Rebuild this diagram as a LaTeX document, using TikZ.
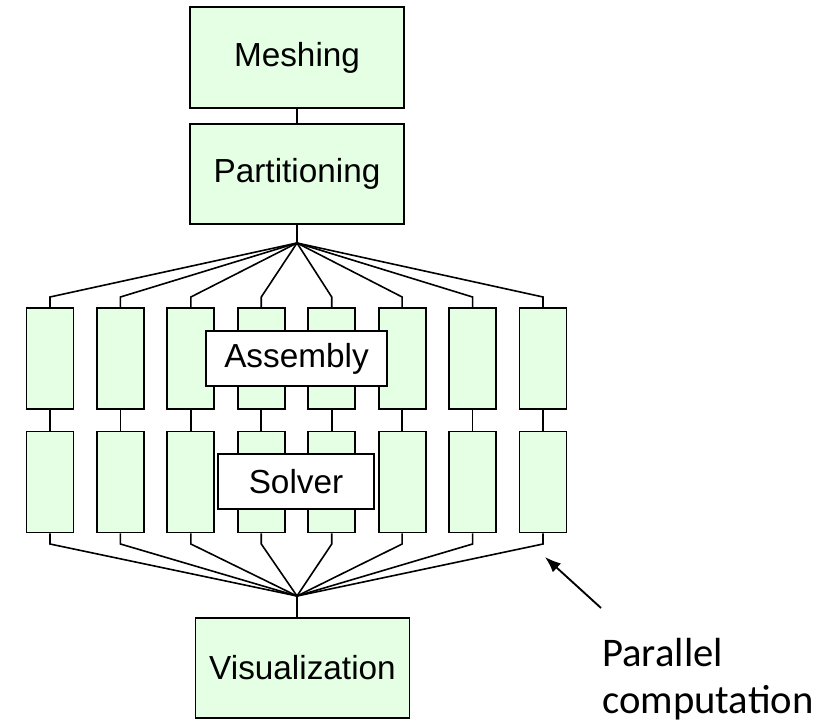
\documentclass[tikz,border=0pt]{standalone}
\usepackage{fontspec}
\setmainfont{Liberation Sans}
\newfontfamily\calib{Carlito}
\usetikzlibrary{arrows.meta}
\definecolor{boxgreen}{RGB}{229,255,229}
\begin{document}
\begin{tikzpicture}[x=0.75pt,y=-0.75pt,
  stage/.style={draw=black, line width=1.4pt, fill=boxgreen, minimum width=214*0.75pt, minimum height=100*0.75pt, inner sep=0pt, font=\fontsize{25}{30}\selectfont},
  proc/.style={draw=black, line width=1.4pt, fill=boxgreen, minimum width=47*0.75pt, minimum height=101*0.75pt, inner sep=0pt},
  tag/.style={draw=black, line width=1.4pt, fill=white, minimum height=55*0.75pt, inner sep=0pt, font=\fontsize{25}{30}\selectfont},
  conn/.style={line width=1.2pt}]
\useasboundingbox (0,0) rectangle (836,725);
% main stages
\node[stage, minimum height=101*0.75pt] (mesh) at (297,57.5) {Meshing};
\node[stage] (part) at (297,174) {Partitioning};
\node[stage] (vis) at (302.5,668) {Visualization};
% junction points
\coordinate (atop) at (297,243);
\coordinate (elbT) at (297,297);
\coordinate (elbB) at (297,544);
\coordinate (abot) at (297,596);
% parallel columns
\foreach \i in {1,...,8}{
  \pgfmathsetmacro\cx{50+70.43*(\i-1)}
  \node[proc] (t\i) at (\cx,358.5) {};
  \node[proc] (b\i) at (\cx,482) {};
}
% connectors
\draw[conn] (mesh.south) -- (part.north);
\draw[conn] (part.south) -- (atop);
\foreach \i in {1,...,8}{
  \draw[conn] (atop) -- (t\i.north |- elbT) -- (t\i.north);
  \draw[conn] (t\i.south) -- (b\i.north);
  \draw[conn] (b\i.south) -- (b\i.south |- elbB) -- (abot);
}
\draw[conn] (abot) -- (abot |- vis.north);
% overlay labels
\node[tag, minimum width=181*0.75pt] (asm) at (296.5,358.5) {Assembly};
\node[tag, minimum width=156*0.75pt] (sol) at (296,481.5) {Solver};
% annotation
\node[font=\calib\fontsize{30.5}{35}\selectfont, align=left, anchor=north west, inner sep=0pt] (lbl) at (602,638) {Parallel\\computation};
\coordinate (arrS) at (601,608);
\coordinate (arrT) at (545,557);
\draw[line width=1.4pt, -{Latex[length=12pt,width=9pt]}] (arrS) -- (arrT);
\end{tikzpicture}
\end{document}
